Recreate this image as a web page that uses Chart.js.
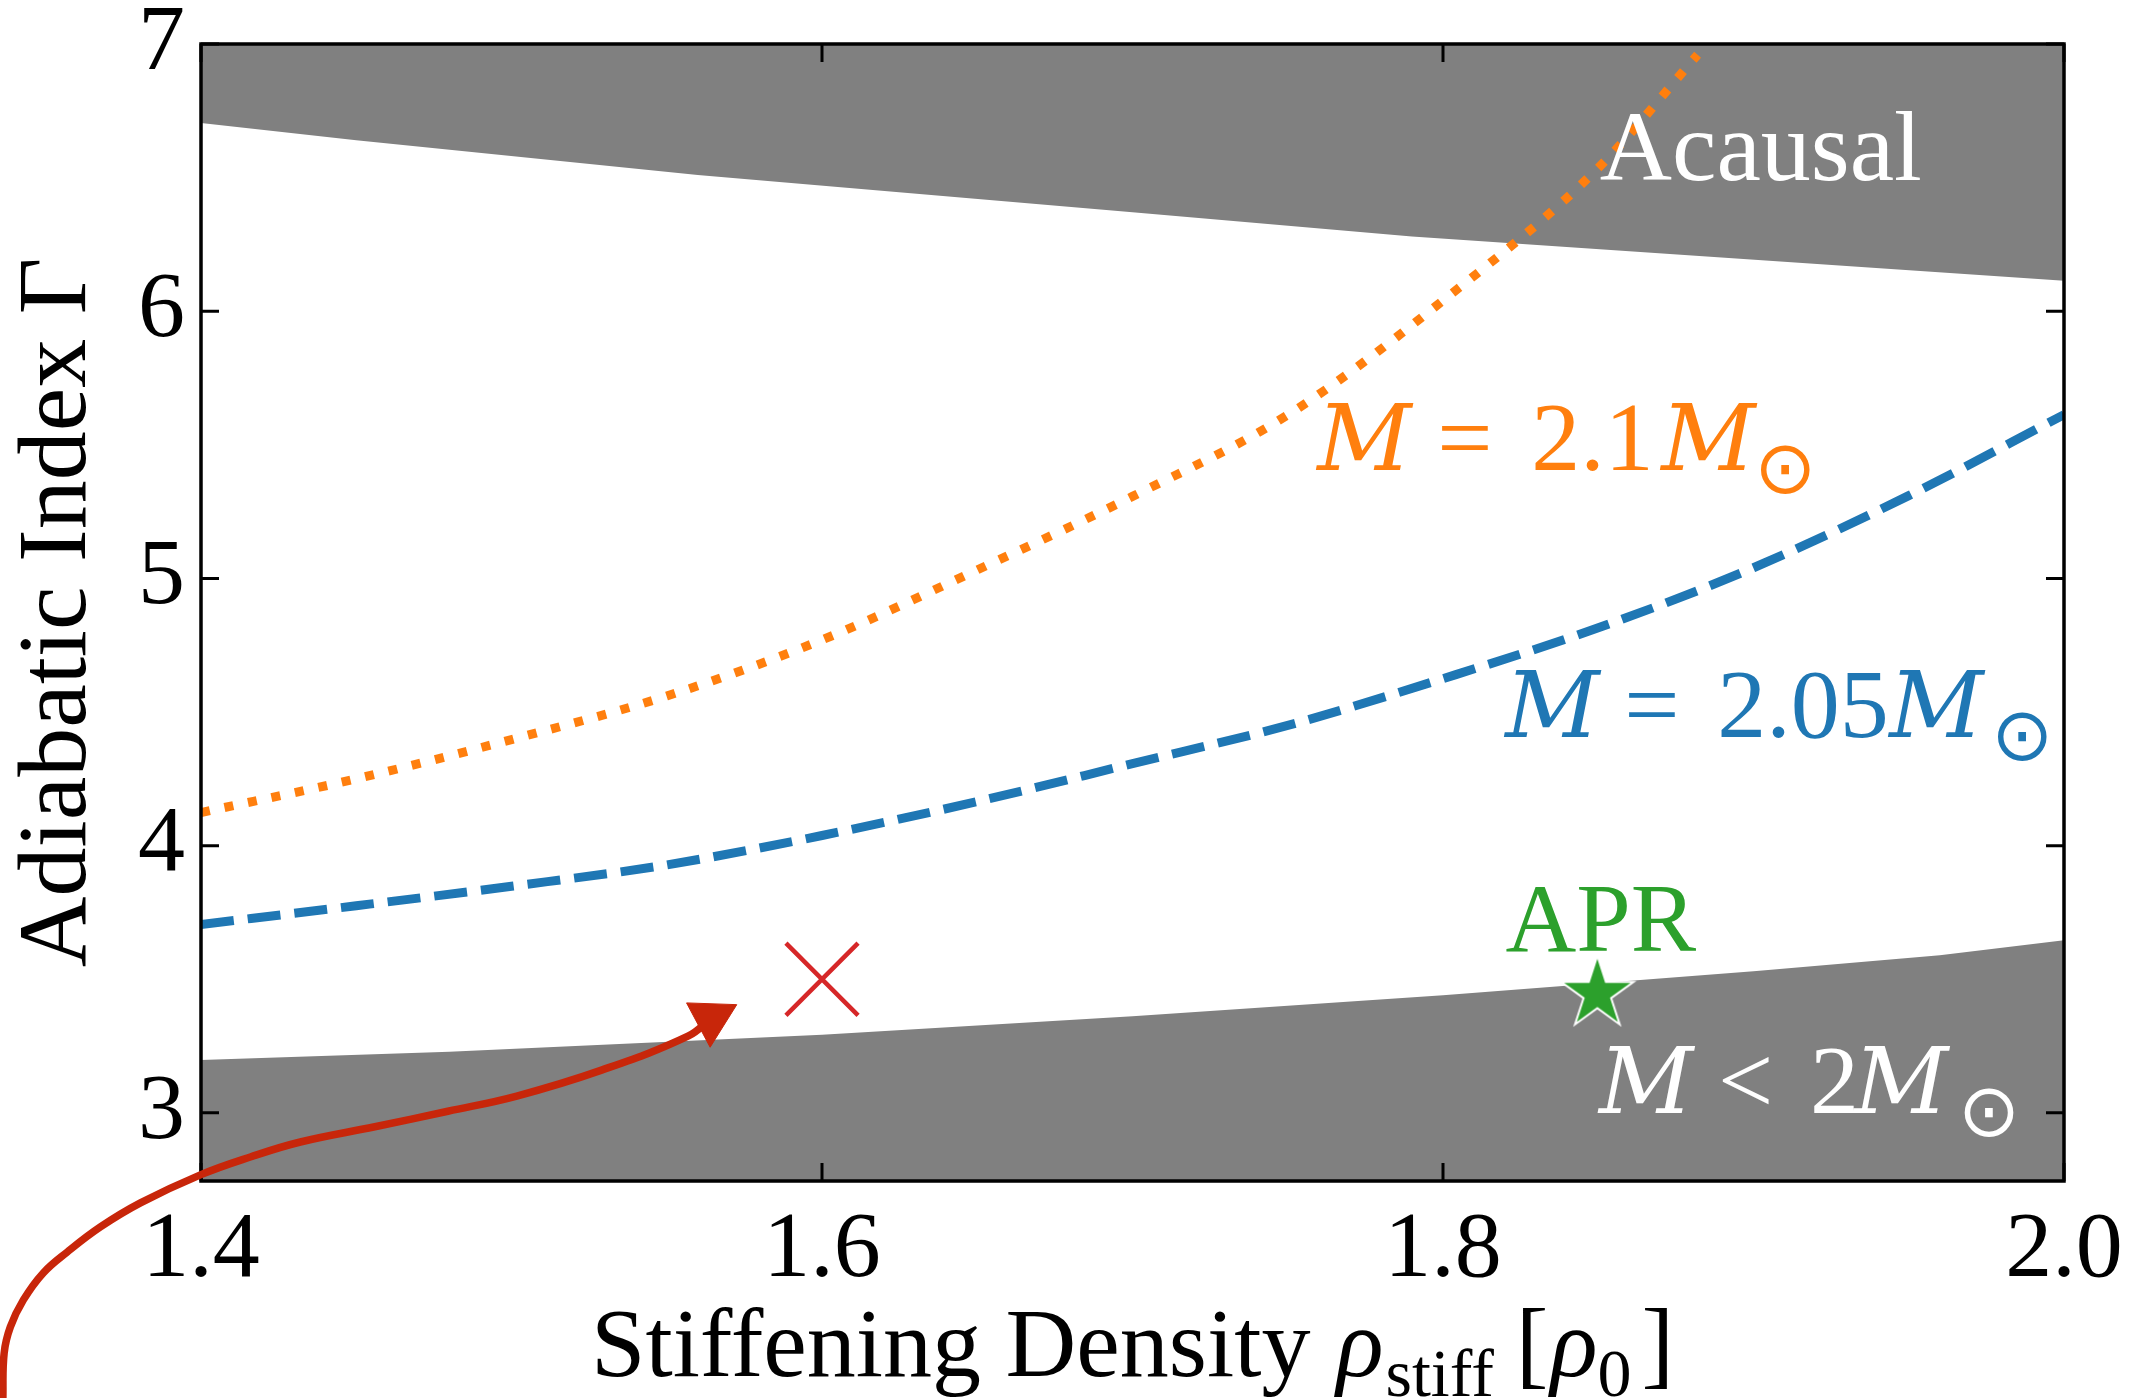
<!DOCTYPE html>
<html>
<head>
<meta charset="utf-8">
<script src="https://cdn.jsdelivr.net/npm/chart.js@4.4.1/dist/chart.umd.min.js"></script>
<style>
  html, body { margin: 0; padding: 0; background: #fff; }
</style>
</head>
<body>
<canvas id="chart" width="2141" height="1398"></canvas>
<script>
// axis ticks
const xTicks = [1.4, 1.6, 1.8, 2.0];
const yTicks = [3, 4, 5, 6, 7];

// acausal region (upper boundary)
const acausalRho = [1.4, 1.45, 1.56, 1.7, 1.79, 2.0];
const acausalGamma = [6.704, 6.64, 6.51, 6.37, 6.28, 6.114];

// M < 2 Msun region (lower boundary)
const lightRho = [1.4, 1.48, 1.6, 1.7, 1.8, 1.9, 1.96, 2.0];
const lightGamma = [3.198, 3.229, 3.292, 3.362, 3.44, 3.53, 3.59, 3.646];

// M = 2.05 Msun
const rho205 = [1.4, 1.45, 1.5, 1.55, 1.6, 1.65, 1.7, 1.75, 1.8, 1.85, 1.9, 1.95, 2.0];
const gamma205 = [3.705, 3.775, 3.848, 3.928, 4.038, 4.165, 4.307, 4.45, 4.625, 4.815, 5.04, 5.31, 5.613];

// M = 2.1 Msun
const rho21 = [1.4, 1.45, 1.5, 1.55, 1.6, 1.65, 1.7, 1.75, 1.8, 1.85, 1.882];
const gamma21 = [4.124, 4.25, 4.397, 4.56, 4.77, 5.032, 5.307, 5.612, 6.04, 6.536, 6.96];

// markers
const crossPoint = { x: 1.6, y: 3.5 };
const aprPoint = { x: 1.8497, y: 3.446 };

// curved arrow (ends at the arrow head)
const arrowRho = [1.3362, 1.3362, 1.3366, 1.3386, 1.3428, 1.3492, 1.3569, 1.3676, 1.3805, 1.3998,
  1.4159, 1.432, 1.456, 1.4795, 1.5017, 1.529, 1.557, 1.5643];
const arrowGamma = [1.85, 1.933, 2.101, 2.199, 2.30, 2.401, 2.479, 2.573, 2.663, 2.768,
  2.835, 2.891, 2.948, 3.006, 3.063, 3.16, 3.288, 3.354];

const SERIF = "'Liberation Serif', 'Times New Roman', serif";
const MATH_IT = "'DejaVu Serif', 'Liberation Serif', serif";
const GRAY = '#808080';
const BLUE = '#1f77b4';
const ORANGE = '#ff7f0e';
const GREEN = '#2ca02c';
const RED = '#d62728';
const ARROW = '#c8260a';

function pts(xs, ys) {
  return xs.map((x, i) => ({ x: x, y: ys[i] }));
}

function makeStar(R, fill) {
  const c = document.createElement('canvas');
  const size = Math.ceil(2 * R + 6);
  c.width = size;
  c.height = size;
  const g = c.getContext('2d');
  const cx = size / 2, cy = size / 2, r = R * 0.381966;
  g.beginPath();
  for (let i = 0; i < 10; i++) {
    const a = -Math.PI / 2 + i * Math.PI / 5;
    const rr = i % 2 ? r : R;
    g.lineTo(cx + rr * Math.cos(a), cy + rr * Math.sin(a));
  }
  g.closePath();
  g.fillStyle = fill;
  g.fill();
  g.strokeStyle = '#fff';
  g.lineWidth = 2;
  g.stroke();
  return c;
}

function fontOf(p) {
  return (p.italic ? 'italic ' : '') + p.size + 'px ' + (p.family || SERIF);
}

// text pieces: t, size, italic, dy; "at" = offset from anchor, else placed after previous piece (+gap)
function drawRich(ctx, parts, x, y, color, align) {
  const widths = parts.map(p => { ctx.font = fontOf(p); return ctx.measureText(p.t).width; });
  let total = 0;
  parts.forEach((p, i) => { total += (p.gap || 0) + widths[i]; });
  let cx = align === 'center' ? x - total / 2 : x;
  ctx.save();
  ctx.fillStyle = color;
  parts.forEach((p, i) => {
    ctx.font = fontOf(p);
    if (p.sun) {
      ctx.textAlign = 'center';
      ctx.textBaseline = 'middle';
      ctx.fillText(p.t, x + p.at, y + (p.dy || 0));
      return;
    }
    ctx.textAlign = 'left';
    ctx.textBaseline = 'alphabetic';
    if (p.at !== undefined) cx = x + p.at; else cx += p.gap || 0;
    ctx.fillText(p.t, cx, y + (p.dy || 0));
    cx += widths[i];
  });
  ctx.restore();
}

function massLabel(rel, num, offs) {
  return [
    { t: 'M', size: 92, italic: true, family: MATH_IT, at: -4 },
    { t: rel, size: 98, at: offs[0] },
    { t: num, size: 98, at: offs[1] },
    { t: 'M', size: 92, italic: true, family: MATH_IT, at: offs[2] - 4 },
    { t: '\u2299', size: 74, family: "'DejaVu Sans'", sun: true, at: offs[3], dy: 4 }
  ];
}

const annotations = [
  { x: 1.8505, y: 6.49, color: '#fff', parts: [{ t: 'Acausal', size: 100 }] },
  { x: 1.7608, y: 5.405, color: ORANGE, parts: massLabel('=', '2.1', [116, 210, 344, 464]) },
  { x: 1.8213, y: 4.407, color: BLUE, parts: massLabel('=', '2.05', [115, 208, 384, 513]) },
  { x: 1.8201, y: 3.605, color: GREEN, parts: [{ t: 'APR', size: 98 }] },
  { x: 1.8515, y: 3.0, color: '#fff', parts: massLabel('<', '2', [115, 207, 255, 386]) }
];

const xTitle = [
  { t: 'Stiffening Density', size: 98 },
  { t: '\u03c1', size: 98, italic: true, gap: 26 },
  { t: 'stiff', size: 68, dy: 20, gap: 2 },
  { t: '[', size: 98, gap: 22 },
  { t: '\u03c1', size: 98, italic: true, gap: 2 },
  { t: '0', size: 68, dy: 20 },
  { t: ']', size: 98, gap: 10 }
];

const frameAndTicks = {
  id: 'frameAndTicks',
  beforeDatasetDraw(chart, args) {
    if (chart.data.datasets[args.index].label !== 'arrow') return;
    const { ctx, chartArea: a, scales } = chart;
    ctx.save();
    ctx.strokeStyle = '#000';
    ctx.lineWidth = 3.5;
    ctx.strokeRect(a.left, a.top, a.right - a.left, a.bottom - a.top);
    ctx.lineWidth = 3;
    ctx.beginPath();
    xTicks.forEach(v => {
      const px = scales.x.getPixelForValue(v);
      ctx.moveTo(px, a.bottom); ctx.lineTo(px, a.bottom - 18);
      ctx.moveTo(px, a.top); ctx.lineTo(px, a.top + 18);
    });
    yTicks.forEach(v => {
      const py = scales.y.getPixelForValue(v);
      ctx.moveTo(a.left, py); ctx.lineTo(a.left + 18, py);
      ctx.moveTo(a.right, py); ctx.lineTo(a.right - 18, py);
    });
    ctx.stroke();
    ctx.restore();
  },
  afterDraw(chart) {
    const { ctx, chartArea: a, scales } = chart;
    annotations.forEach(n => {
      drawRich(ctx, n.parts, scales.x.getPixelForValue(n.x), scales.y.getPixelForValue(n.y), n.color, 'left');
    });
    drawRich(ctx, xTitle, (a.left + a.right) / 2, a.bottom + 195, '#000', 'center');
  }
};

const lastArrow = arrowRho.length - 1;

new Chart(document.getElementById('chart'), {
  type: 'line',
  data: {
    datasets: [
      {
        label: 'acausal',
        data: pts(acausalRho, acausalGamma),
        fill: 'end',
        backgroundColor: GRAY,
        borderWidth: 0,
        pointRadius: 0,
        tension: 0,
        order: 10
      },
      {
        label: 'light',
        data: pts(lightRho, lightGamma),
        fill: 'start',
        backgroundColor: GRAY,
        borderWidth: 0,
        pointRadius: 0,
        tension: 0,
        order: 9
      },
      {
        label: 'M=2.05',
        data: pts(rho205, gamma205),
        borderColor: BLUE,
        borderWidth: 9,
        borderDash: [33, 14],
        cubicInterpolationMode: 'monotone',
        fill: false,
        pointRadius: 0,
        order: 8
      },
      {
        label: 'M=2.1',
        data: pts(rho21, gamma21),
        borderColor: ORANGE,
        borderWidth: 9,
        borderDash: [9, 15],
        cubicInterpolationMode: 'monotone',
        fill: false,
        pointRadius: 0,
        order: 7
      },
      {
        label: 'arrow',
        data: pts(arrowRho, arrowGamma),
        xAxisID: 'xArrow',
        borderColor: ARROW,
        borderWidth: 7.5,
        tension: 0.4,
        fill: false,
        clip: false,
        pointRadius: arrowRho.map((_, i) => i === lastArrow ? 29 : 0),
        pointStyle: 'triangle',
        pointRotation: 62,
        pointBackgroundColor: ARROW,
        pointBorderColor: ARROW,
        pointBorderWidth: 1,
        order: 5
      },
      {
        label: 'cross',
        data: [crossPoint],
        showLine: false,
        pointStyle: 'crossRot',
        pointRadius: 51,
        pointBorderColor: RED,
        pointBorderWidth: 4.5,
        order: 2
      },
      {
        label: 'APR',
        data: [aprPoint],
        showLine: false,
        pointStyle: makeStar(38, GREEN),
        order: 1
      }
    ]
  },
  options: {
    responsive: false,
    animation: false,
    devicePixelRatio: 1,
    events: [],
    layout: { autoPadding: false, padding: { left: 0, right: 77, top: 44, bottom: 0 } },
    plugins: {
      legend: { display: false },
      tooltip: { enabled: false }
    },
    scales: {
      x: {
        type: 'linear',
        min: 1.4,
        max: 2.0,
        afterBuildTicks: s => { s.ticks = xTicks.map(v => ({ value: v })); },
        afterFit: s => { s.height = 217; s.paddingLeft = 0; s.paddingRight = 0; },
        grid: { display: false, drawTicks: false },
        border: { display: false },
        ticks: {
          callback: v => v.toFixed(1),
          font: { family: SERIF, size: 94 },
          color: '#000',
          padding: 14,
          maxRotation: 0,
          autoSkip: false
        }
      },
      // same range as x, but without user bounds so the arrow's points left of 1.4 are kept
      xArrow: {
        type: 'linear',
        display: false,
        bounds: 'data',
        afterDataLimits: s => { s.min = xTicks[0]; s.max = xTicks[xTicks.length - 1]; }
      },
      y: {
        type: 'linear',
        min: 2.745,
        max: 7,
        afterBuildTicks: s => { s.ticks = yTicks.map(v => ({ value: v })); },
        afterFit: s => { s.width = 201; s.paddingTop = 0; s.paddingBottom = 0; },
        grid: { display: false, drawTicks: false },
        border: { display: false },
        ticks: {
          font: { family: SERIF, size: 94 },
          color: '#000',
          padding: 16
        },
        title: {
          display: true,
          text: 'Adiabatic Index \u0393',
          font: { family: SERIF, size: 98 },
          color: '#000',
          padding: 0
        }
      }
    }
  },
  plugins: [frameAndTicks]
});
</script>
</body>
</html>
